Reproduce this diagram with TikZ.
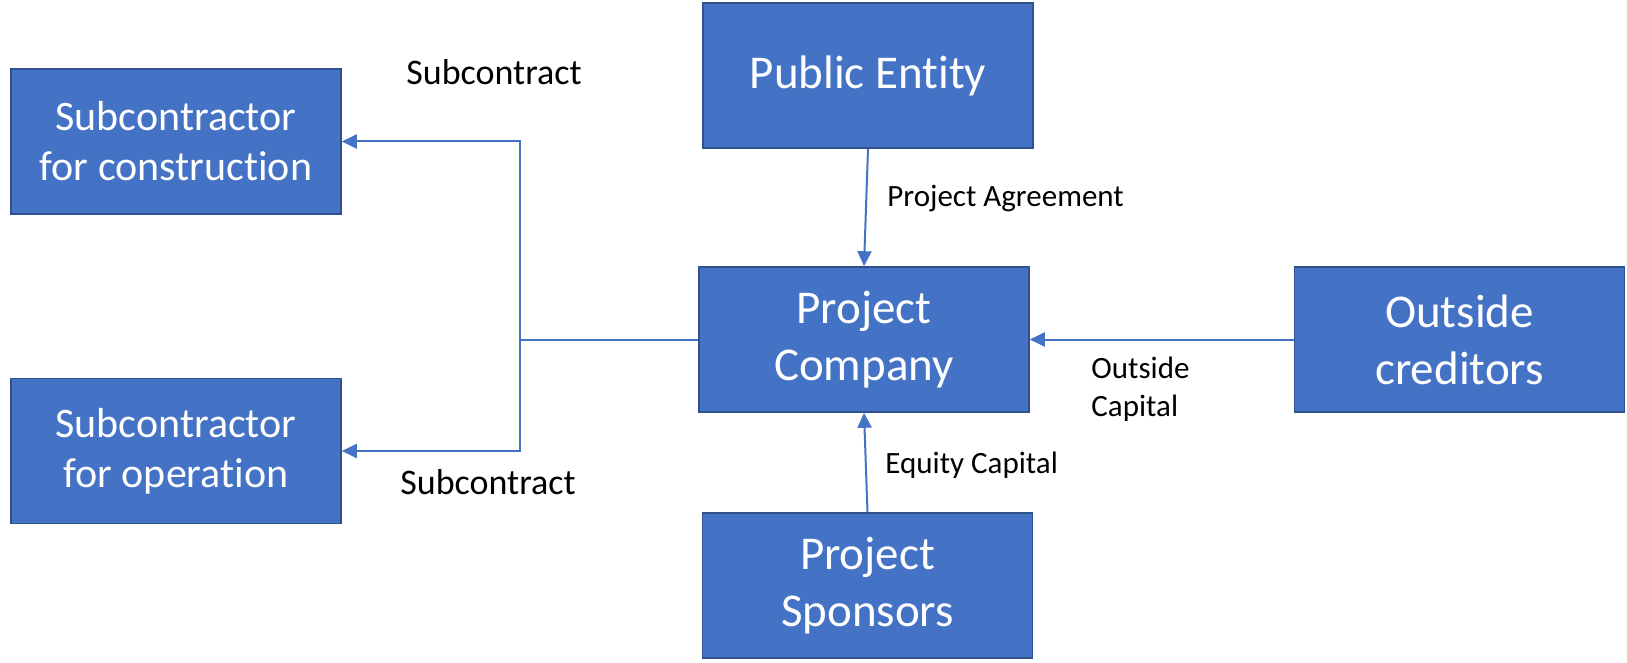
\documentclass[tikz,border=0pt]{standalone}
\usepackage{fontspec}
\setmainfont{Carlito}[Ligatures=CommonOff]
\usepackage{tikz}
\usetikzlibrary{arrows.meta}
\usetikzlibrary{positioning}

\definecolor{officeblue}{HTML}{4472C4}
\definecolor{edgeblue}{HTML}{2F528F}

\begin{document}
\begin{tikzpicture}[x=0.5pt, y=-0.5pt,
    party/.style={draw=edgeblue, line width=0.8pt, fill=officeblue, text=white,
      align=center, minimum width=165pt, minimum height=72.5pt, inner sep=0pt,
      font=\fontsize{23.5}{28.5}\selectfont},
    subparty/.style={party, font=\fontsize{21}{25}\selectfont},
    link/.style={draw=officeblue, line width=1pt},
    tip/.style={-{Triangle[length=7.5pt, width=7pt]}},
    flowlabel/.style={inner sep=0pt, align=left, font=\fontsize{15.5}{19}\selectfont}]
  \useasboundingbox (0, 0) rectangle (1627, 663);

  % boxes
  \node[subparty] (build) at (176, 141.5) {Subcontractor\\for construction};
  \node[subparty] (operate) at (176, 451) {Subcontractor\\for operation};
  \node[party] (public) at (868, 75.5) {Public Entity};
  \node[party] (company) at (864, 339.5) {Project\\Company};
  \node[party] (creditors) at (1459.5, 339.5) {Outside\\creditors};
  \node[party] (sponsors) at (867.5, 585.5) {Project\\Sponsors};

  % connectors
  \coordinate (split) at (520, 339.5);
  \draw[link] (company.west) -- (split);
  \draw[link, tip] (split) |- (build.east);
  \draw[link, tip] (split) |- (operate.east);
  \draw[link, tip] (public.south) -- (company.north);
  \draw[link, tip] (sponsors.north) -- (company.south);
  \draw[link, tip] (creditors.west) -- (company.east);

  % labels
  \node[flowlabel, font=\fontsize{18}{22}\selectfont] (subtop) at (494, 72) {Subcontract};
  \node[flowlabel, font=\fontsize{18}{22}\selectfont] (subbottom) at (488, 482) {Subcontract};
  \node[flowlabel, anchor=west] (agreement) at (887, 199) {Project Agreement};
  \node[flowlabel, anchor=west] (equity) at (885, 465) {Equity Capital};
  \node[flowlabel, anchor=west] (outside) at (1091, 389) {Outside\\Capital};
\end{tikzpicture}
\end{document}
